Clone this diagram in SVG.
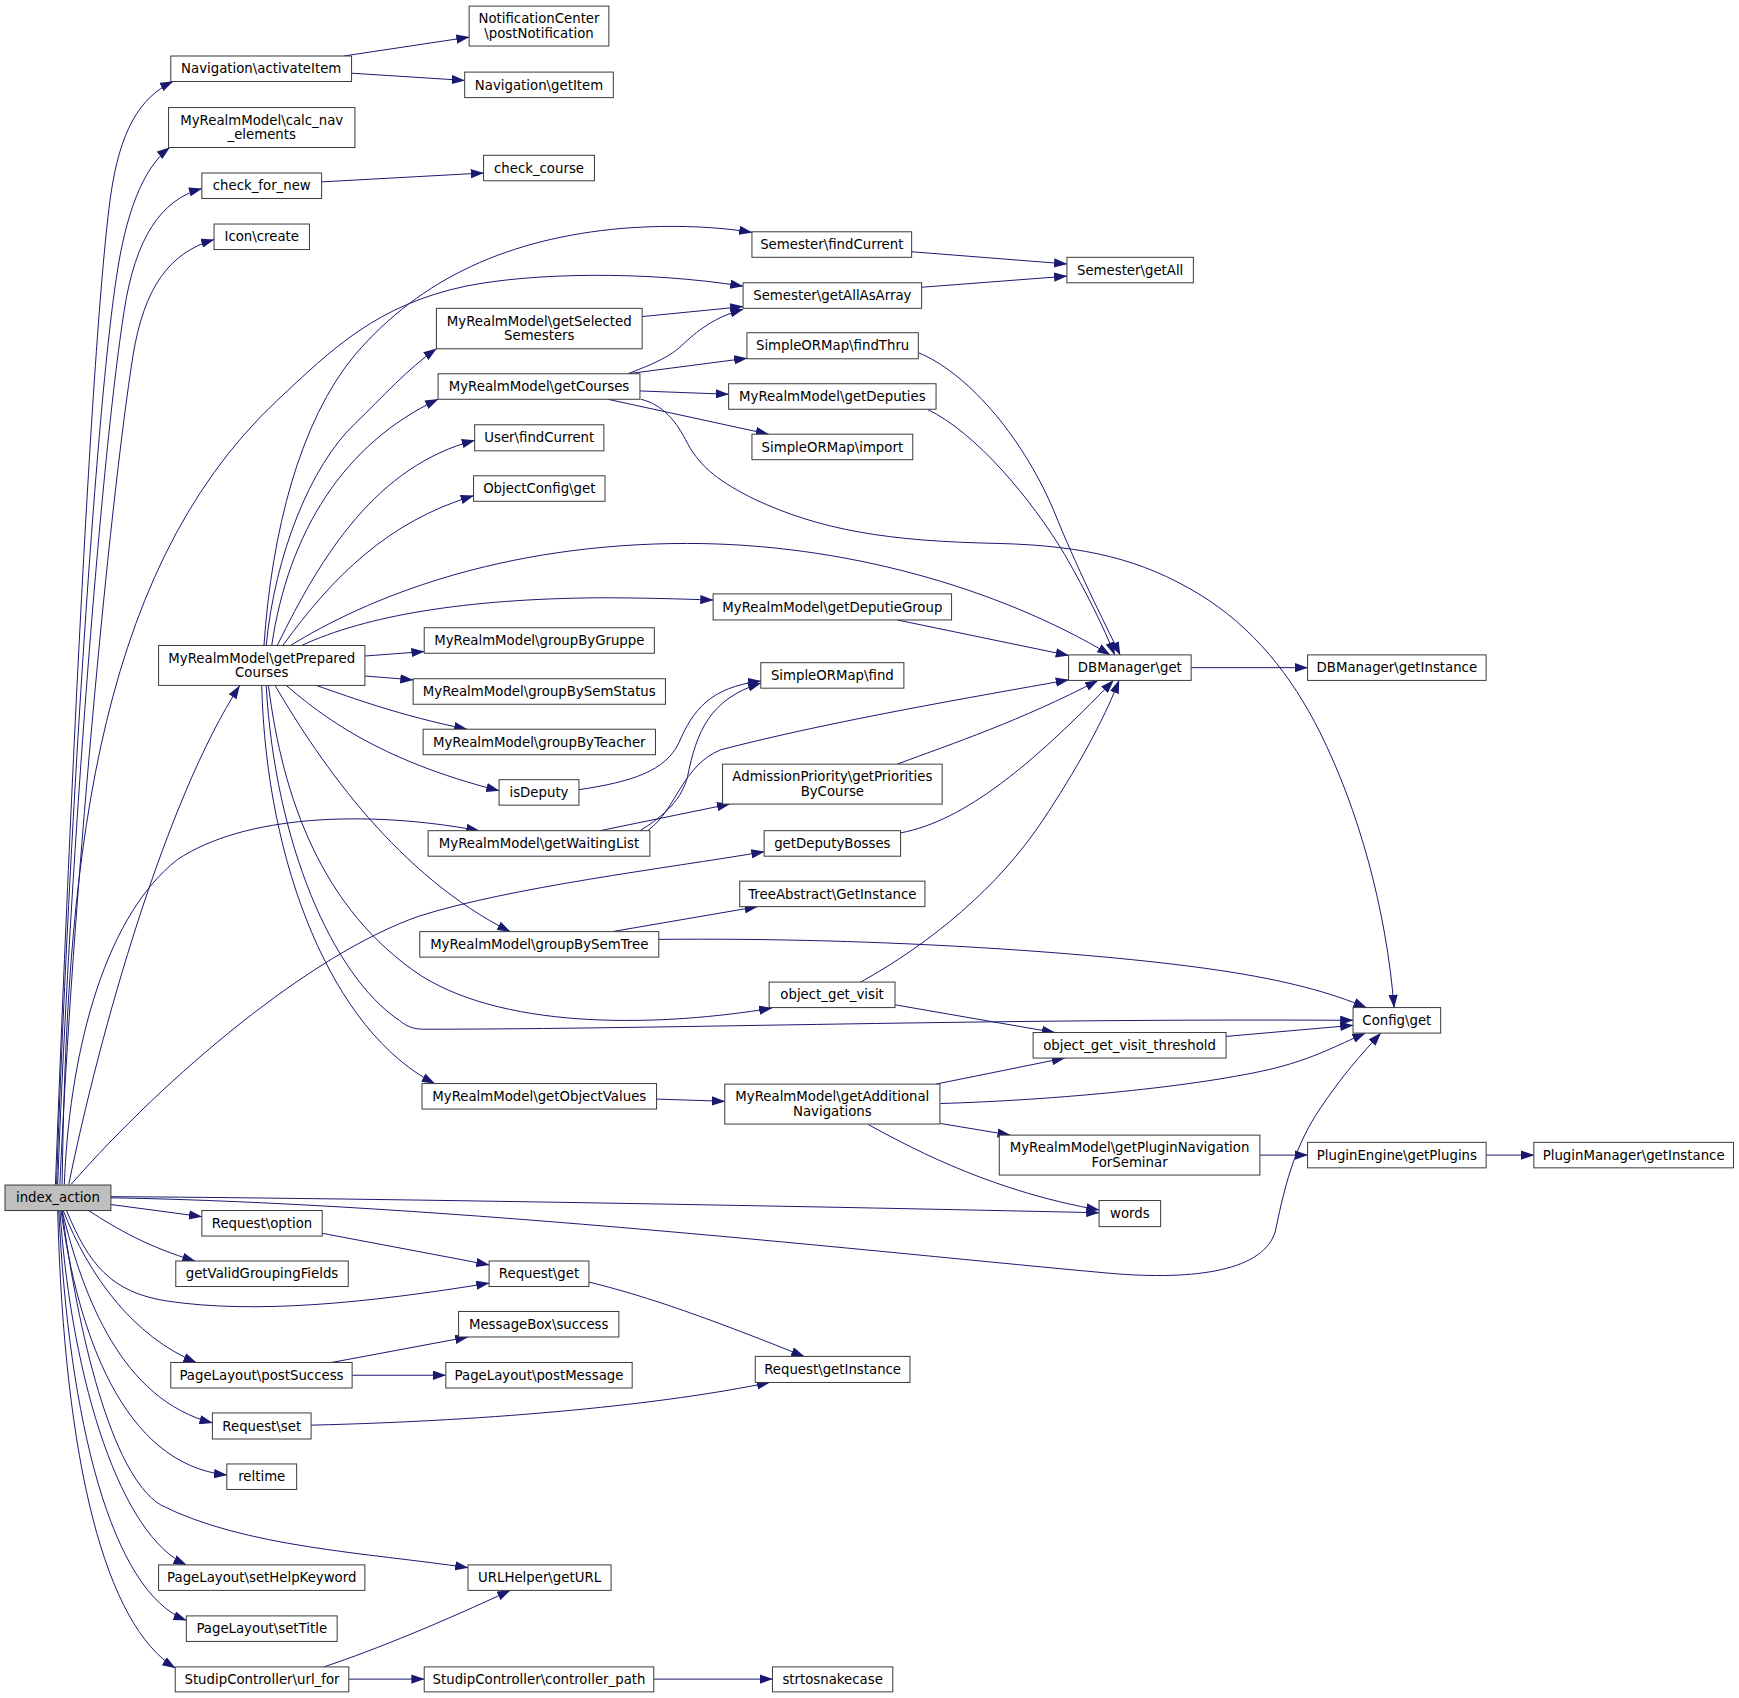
<svg xmlns="http://www.w3.org/2000/svg" width="1739" height="1698" viewBox="0 0 1739 1698">
<style>
.e{fill:none;stroke:#191970;stroke-width:0.9;marker-end:url(#ah)}
.n rect{fill:#ffffff;stroke:#3a3a3a;stroke-width:0.9}
.n.root rect{fill:#bfbfbf}
.n text{font-family:"DejaVu Sans","Liberation Sans",sans-serif;font-size:12px;fill:#000000;text-anchor:middle}
</style>
<defs>
<marker id="ah" markerUnits="userSpaceOnUse" markerWidth="12" markerHeight="8.4" viewBox="0 0 12 8.4" refX="11.6" refY="4.2" orient="auto">
<path d="M0,0 L12,4.2 L0,8.4 z" fill="#191970"/>
</marker>
</defs>
<rect x="0" y="0" width="1739" height="1698" fill="#ffffff"/>
<g transform="scale(1.10906)">
<g id="edges">
<path class="e" d="M50,1068 C60,800 82,300 100,175 C108,120 125,88 156,73.5"/>
<path class="e" d="M51,1068 C60,800 85,380 105,250 C113,195 128,152 153,133"/>
<path class="e" d="M52,1068 C62,800 90,420 112,280 C122,215 145,180 182,170"/>
<path class="e" d="M54,1068 C65,820 98,460 120,320 C130,260 152,228 193,216"/>
<path class="e" d="M56,1068 C60,800 80,520 250,361 C300,314 340,275 420,258 C480,246 580,244 670,258"/>
<path class="e" d="M62,1068 C90,930 150,720 216,618.5"/>
<path class="e" d="M58,1068 C62,960 90,830 160,775 C220,735 330,730 432,749"/>
<path class="e" d="M64,1068 C150,970 280,860 378,826 C460,800 600,783 689,768"/>
<path class="e" d="M99.5,1086 L182,1097"/>
<path class="e" d="M80,1091.5 C105,1108 135,1125 176,1137"/>
<path class="e" d="M60,1091.5 C80,1140 100,1165 150,1173 C230,1185 330,1175 441,1157"/>
<path class="e" d="M57,1091.5 C80,1150 120,1205 177,1228.5"/>
<path class="e" d="M56,1091.5 C75,1170 110,1262 191.5,1283"/>
<path class="e" d="M55,1091.5 C70,1200 110,1320 204.5,1330"/>
<path class="e" d="M56,1091.5 C70,1200 100,1330 145,1357 C220,1395 330,1400 422,1413.5"/>
<path class="e" d="M54,1091.5 C65,1250 110,1385 168,1411"/>
<path class="e" d="M53,1091.5 C62,1280 100,1435 168,1461"/>
<path class="e" d="M52,1091.5 C58,1320 95,1465 158,1504"/>
<path class="e" d="M99.5,1079 C300,1080 700,1087 991,1093.5"/>
<path class="e" d="M99.5,1080 C400,1085 800,1130 1000,1148 C1080,1155 1140,1145 1150,1110 C1160,1060 1170,1030 1190,1000 C1210,970 1228,950 1245,931.5"/>
<path class="e" d="M238,582 C245,480 270,380 320,320 C380,250 460,215 560,206 C610,202 650,205 678,209.5"/>
<path class="e" d="M240,582 C248,500 280,420 320,382 C345,358 368,332 393.5,314.5"/>
<path class="e" d="M245,582 C260,480 310,400 395,360"/>
<path class="e" d="M250,582 C290,500 340,420 428,397"/>
<path class="e" d="M255,582 C300,520 350,470 427,447"/>
<path class="e" d="M262,582 C330,540 450,490 620,490 C760,490 900,530 1001,590.5"/>
<path class="e" d="M272,582 C330,555 420,540 540,539 C580,539 610,540 643,541"/>
<path class="e" d="M329,591.5 L382.5,587.5"/>
<path class="e" d="M329,609.5 L372.5,613"/>
<path class="e" d="M285,618 C320,630 360,645 421,657.5"/>
<path class="e" d="M258,618 C290,645 340,685 450,713"/>
<path class="e" d="M248,618 C290,690 360,790 460,840"/>
<path class="e" d="M242,618 C255,720 290,820 380,880 C460,930 600,925 696,909"/>
<path class="e" d="M240,618 C248,760 300,880 360,920 C366,925 372,928 382,928 C600,928 900,918 1220,920"/>
<path class="e" d="M236,618 C240,780 300,930 392,977"/>
<path class="e" d="M566,337 C590,328 602,322 612,314 C625,302 640,287 670,279"/>
<path class="e" d="M566,337 L673.5,323"/>
<path class="e" d="M577,352.5 L657,355.5"/>
<path class="e" d="M548,360 L693,391.5"/>
<path class="e" d="M578,360 C598,365 610,380 620,400 C632,422 650,435 680,450 C740,478 800,488 900,490 C980,492 1030,505 1080,535 C1130,565 1165,610 1190,660 C1225,730 1250,820 1257,908.5"/>
<path class="e" d="M822,227 L962,238"/>
<path class="e" d="M831,259 L962,249"/>
<path class="e" d="M828,318 C870,335 920,390 950,460 C970,510 995,560 1010,590.5"/>
<path class="e" d="M836,369 C880,390 930,450 960,500 C980,535 995,565 1005,590.5"/>
<path class="e" d="M809,559 L963.5,591"/>
<path class="e" d="M1074,602 L1179,602"/>
<path class="e" d="M522,712 C570,705 600,695 612,670 C625,640 640,620 686,614"/>
<path class="e" d="M577,749 C600,735 615,720 620,700 C628,660 640,630 686,616"/>
<path class="e" d="M584,749 C610,730 615,690 650,676 C750,650 880,628 963.5,613"/>
<path class="e" d="M541,749 L658,725"/>
<path class="e" d="M809,689 C860,670 920,650 990,613.5"/>
<path class="e" d="M812,751 C870,740 930,690 1004,613.5"/>
<path class="e" d="M776,885.5 C840,850 900,800 940,740 C970,695 995,650 1009,613.5"/>
<path class="e" d="M552,840 L683,817.5"/>
<path class="e" d="M594,847 C800,845 1000,860 1100,875 C1160,884 1200,895 1232,908.5"/>
<path class="e" d="M807,906 L951,931"/>
<path class="e" d="M1105.5,934.5 L1220,924.5"/>
<path class="e" d="M592,991 L653.5,993"/>
<path class="e" d="M844,977.5 L960,954"/>
<path class="e" d="M848,995 C950,992 1080,980 1150,963 C1185,954 1205,943 1231,931.5"/>
<path class="e" d="M848,1013 L911,1023.5"/>
<path class="e" d="M783,1014 C830,1040 900,1075 991,1091"/>
<path class="e" d="M1136,1041.5 L1179,1041.5"/>
<path class="e" d="M1340,1041.5 L1383,1041.5"/>
<path class="e" d="M290.5,1112 L441,1140.5"/>
<path class="e" d="M531,1156 C580,1168 630,1185 725,1223"/>
<path class="e" d="M299,1228.5 L422,1205.5"/>
<path class="e" d="M317.5,1240 L402,1240"/>
<path class="e" d="M280.5,1285 C450,1281 600,1266 694,1246.5"/>
<path class="e" d="M292,1503 C340,1487 400,1462 460,1434"/>
<path class="e" d="M314.5,1514 L382.5,1514"/>
<path class="e" d="M589.5,1514 L696.5,1514"/>
<path class="e" d="M310,50.5 L423,33.5"/>
<path class="e" d="M317,66 L419,72.5"/>
<path class="e" d="M290,164 L436,156"/>
<path class="e" d="M578.5,285.5 L670,276.5"/>
</g>
<g id="nodes">
<g id="n_index_action" class="n root"><rect x="4.5" y="1068.5" width="95.5" height="23"/><text x="52.25" y="1084.2">index_action</text></g>
<g id="n_activateItem" class="n"><rect x="154" y="50.5" width="163" height="23"/><text x="235.5" y="66.2">Navigation\activateItem</text></g>
<g id="n_postNotification" class="n"><rect x="423" y="5.5" width="126" height="36"/><text x="486" y="21">NotificationCenter</text><text x="486" y="34.2">\postNotification</text></g>
<g id="n_getItem" class="n"><rect x="419" y="65" width="134" height="23"/><text x="486" y="80.7">Navigation\getItem</text></g>
<g id="n_calc_nav" class="n"><rect x="152" y="97" width="168" height="36"/><text x="236" y="112.5">MyRealmModel\calc_nav</text><text x="236" y="125.7">_elements</text></g>
<g id="n_check_for_new" class="n"><rect x="182" y="156" width="108" height="23"/><text x="236" y="171.7">check_for_new</text></g>
<g id="n_check_course" class="n"><rect x="436" y="140" width="100" height="23"/><text x="486" y="155.7">check_course</text></g>
<g id="n_icon_create" class="n"><rect x="193" y="202" width="86" height="23"/><text x="236" y="217.7">Icon\create</text></g>
<g id="n_sem_findCurrent" class="n"><rect x="678" y="209" width="144" height="23"/><text x="750" y="224.7">Semester\findCurrent</text></g>
<g id="n_sem_getAll" class="n"><rect x="962" y="232" width="114" height="23"/><text x="1019" y="247.7">Semester\getAll</text></g>
<g id="n_sem_getAllAsArray" class="n"><rect x="670" y="255" width="161" height="23"/><text x="750.5" y="270.7">Semester\getAllAsArray</text></g>
<g id="n_getSelectedSemesters" class="n"><rect x="393.5" y="278" width="185.5" height="36.5"/><text x="486.25" y="293.75">MyRealmModel\getSelected</text><text x="486.25" y="307">Semesters</text></g>
<g id="n_getCourses" class="n"><rect x="395" y="337" width="182" height="23"/><text x="486" y="352.7">MyRealmModel\getCourses</text></g>
<g id="n_findThru" class="n"><rect x="673.5" y="300" width="154.5" height="23.5"/><text x="750.75" y="315.95">SimpleORMap\findThru</text></g>
<g id="n_getDeputies" class="n"><rect x="657" y="346" width="187" height="23"/><text x="750.5" y="361.7">MyRealmModel\getDeputies</text></g>
<g id="n_import" class="n"><rect x="678" y="391.5" width="145" height="23"/><text x="750.5" y="407.2">SimpleORMap\import</text></g>
<g id="n_user_findCurrent" class="n"><rect x="428" y="383" width="116.5" height="23.5"/><text x="486.25" y="398.95">User\findCurrent</text></g>
<g id="n_objectConfig_get" class="n"><rect x="427" y="429" width="118.5" height="23"/><text x="486.25" y="444.7">ObjectConfig\get</text></g>
<g id="n_getPreparedCourses" class="n"><rect x="143" y="582" width="186" height="36"/><text x="236" y="597.5">MyRealmModel\getPrepared</text><text x="236" y="610.7">Courses</text></g>
<g id="n_getDeputieGroup" class="n"><rect x="643" y="535.5" width="215" height="23.5"/><text x="750.5" y="551.45">MyRealmModel\getDeputieGroup</text></g>
<g id="n_groupByGruppe" class="n"><rect x="382.5" y="566" width="207.5" height="23"/><text x="486.25" y="581.7">MyRealmModel\groupByGruppe</text></g>
<g id="n_groupBySemStatus" class="n"><rect x="372.5" y="612" width="227.5" height="23"/><text x="486.25" y="627.7">MyRealmModel\groupBySemStatus</text></g>
<g id="n_groupByTeacher" class="n"><rect x="381.5" y="657.5" width="209.5" height="23"/><text x="486.25" y="673.2">MyRealmModel\groupByTeacher</text></g>
<g id="n_isDeputy" class="n"><rect x="450" y="703" width="72" height="23"/><text x="486" y="718.7">isDeputy</text></g>
<g id="n_find" class="n"><rect x="686" y="597.5" width="129" height="23"/><text x="750.5" y="613.2">SimpleORMap\find</text></g>
<g id="n_dbm_get" class="n"><rect x="963.5" y="590.5" width="110.5" height="23"/><text x="1018.75" y="606.2">DBManager\get</text></g>
<g id="n_dbm_getInstance" class="n"><rect x="1179" y="590.5" width="161" height="23"/><text x="1259.5" y="606.2">DBManager\getInstance</text></g>
<g id="n_admission" class="n"><rect x="651.5" y="689" width="198" height="36"/><text x="750.5" y="704.5">AdmissionPriority\getPriorities</text><text x="750.5" y="717.7">ByCourse</text></g>
<g id="n_getWaitingList" class="n"><rect x="386" y="749" width="200" height="23"/><text x="486" y="764.7">MyRealmModel\getWaitingList</text></g>
<g id="n_getDeputyBosses" class="n"><rect x="689" y="749" width="123" height="23"/><text x="750.5" y="764.7">getDeputyBosses</text></g>
<g id="n_treeAbstract" class="n"><rect x="667" y="794.5" width="167" height="23"/><text x="750.5" y="810.2">TreeAbstract\GetInstance</text></g>
<g id="n_groupBySemTree" class="n"><rect x="378.5" y="840" width="215.5" height="23"/><text x="486.25" y="855.7">MyRealmModel\groupBySemTree</text></g>
<g id="n_object_get_visit" class="n"><rect x="693.5" y="885.5" width="113.5" height="23"/><text x="750.25" y="901.2">object_get_visit</text></g>
<g id="n_config_get" class="n"><rect x="1220" y="908.5" width="79" height="23"/><text x="1259.5" y="924.2">Config\get</text></g>
<g id="n_threshold" class="n"><rect x="931.5" y="931" width="174" height="23"/><text x="1018.5" y="946.7">object_get_visit_threshold</text></g>
<g id="n_getObjectValues" class="n"><rect x="380.5" y="977" width="211.5" height="23"/><text x="486.25" y="992.7">MyRealmModel\getObjectValues</text></g>
<g id="n_getAdditionalNavigations" class="n"><rect x="653.5" y="977.5" width="194" height="36"/><text x="750.5" y="993">MyRealmModel\getAdditional</text><text x="750.5" y="1006.2">Navigations</text></g>
<g id="n_getPluginNavigation" class="n"><rect x="901" y="1023.5" width="235" height="36"/><text x="1018.5" y="1039">MyRealmModel\getPluginNavigation</text><text x="1018.5" y="1052.2">ForSeminar</text></g>
<g id="n_getPlugins" class="n"><rect x="1179" y="1030" width="161" height="23"/><text x="1259.5" y="1045.7">PluginEngine\getPlugins</text></g>
<g id="n_pluginManager" class="n"><rect x="1383" y="1030" width="180" height="23"/><text x="1473" y="1045.7">PluginManager\getInstance</text></g>
<g id="n_words" class="n"><rect x="991" y="1082.5" width="55.5" height="23.5"/><text x="1018.75" y="1098.45">words</text></g>
<g id="n_request_option" class="n"><rect x="182" y="1091.5" width="108.5" height="23"/><text x="236.25" y="1107.2">Request\option</text></g>
<g id="n_getValidGroupingFields" class="n"><rect x="158.5" y="1137" width="155.5" height="23"/><text x="236.25" y="1152.7">getValidGroupingFields</text></g>
<g id="n_request_get" class="n"><rect x="441" y="1137" width="90" height="23"/><text x="486" y="1152.7">Request\get</text></g>
<g id="n_messagebox" class="n"><rect x="413.5" y="1182.5" width="144.5" height="23"/><text x="485.75" y="1198.2">MessageBox\success</text></g>
<g id="n_postSuccess" class="n"><rect x="154" y="1228.5" width="163.5" height="23"/><text x="235.75" y="1244.2">PageLayout\postSuccess</text></g>
<g id="n_postMessage" class="n"><rect x="402" y="1228.5" width="168" height="23"/><text x="486" y="1244.2">PageLayout\postMessage</text></g>
<g id="n_request_getInstance" class="n"><rect x="681" y="1223" width="139.5" height="23.5"/><text x="750.75" y="1238.95">Request\getInstance</text></g>
<g id="n_request_set" class="n"><rect x="191.5" y="1274" width="89" height="23.5"/><text x="236" y="1289.95">Request\set</text></g>
<g id="n_reltime" class="n"><rect x="204.5" y="1320" width="63" height="23"/><text x="236" y="1335.7">reltime</text></g>
<g id="n_setHelpKeyword" class="n"><rect x="143" y="1411" width="186" height="23"/><text x="236" y="1426.7">PageLayout\setHelpKeyword</text></g>
<g id="n_urlhelper" class="n"><rect x="422" y="1411" width="129" height="23"/><text x="486.5" y="1426.7">URLHelper\getURL</text></g>
<g id="n_setTitle" class="n"><rect x="168" y="1457" width="136" height="23"/><text x="236" y="1472.7">PageLayout\setTitle</text></g>
<g id="n_url_for" class="n"><rect x="158" y="1503" width="156.5" height="22.5"/><text x="236.25" y="1518.45">StudipController\url_for</text></g>
<g id="n_controller_path" class="n"><rect x="382.5" y="1503" width="207" height="22.5"/><text x="486" y="1518.45">StudipController\controller_path</text></g>
<g id="n_strtosnakecase" class="n"><rect x="696.5" y="1503" width="108.5" height="22.5"/><text x="750.75" y="1518.45">strtosnakecase</text></g>
</g>
</g>
</svg>
